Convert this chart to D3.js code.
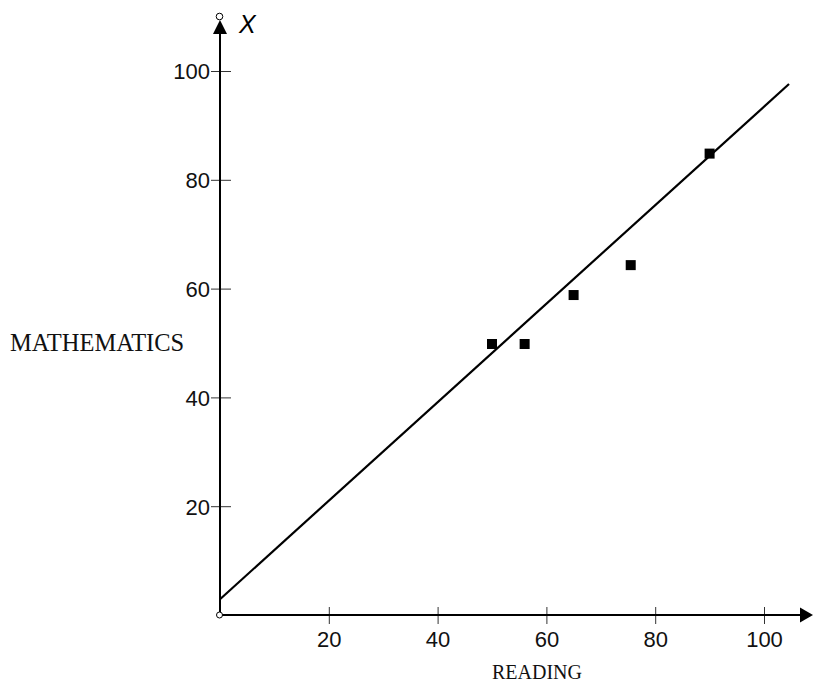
<!DOCTYPE html>
<html>
<head>
<meta charset="utf-8">
<script src="https://cdn.jsdelivr.net/npm/d3@7"></script>
<style>
  body { margin: 0; background: #fff; }
  svg { display: block; }
  .tick text { font-family: "Liberation Sans", Arial, Helvetica, sans-serif; font-size: 22px; fill: #111; }
  .tick line { stroke: #333; stroke-width: 1; }
  .title { font-family: "Liberation Serif", "Times New Roman", serif; fill: #111; }
</style>
</head>
<body>
<script>
'use strict';

// reading vs mathematics scores
var readingScores = [50, 56, 65, 75.5, 90];
var mathScores = [50, 50, 59, 64.5, 85];

// fitted line
var fitX = [0, 104.6];
var fitY = [2.9, 97.6];

var xTicks = [20, 40, 60, 80, 100];
var yTicks = [20, 40, 60, 80, 100];

var width = 813, height = 684;

var svg = d3.select('body').append('svg')
	.attr('width', width)
	.attr('height', height);

var x = d3.scaleLinear().domain([0, 100]).range([220, 764]);
var y = d3.scaleLinear().domain([0, 100]).range([615, 71]);

var ox = x(0), oy = y(0);

// x axis (ticks cross the line)
var xAxis = svg.append('g')
	.attr('transform', 'translate(0,' + oy + ')')
	.call(d3.axisBottom(x).tickValues(xTicks).tickSize(0).tickPadding(0));
xAxis.select('.domain').remove();
xAxis.selectAll('.tick line').attr('y1', -8).attr('y2', 9);
xAxis.selectAll('.tick text').attr('dy', null).attr('y', 32);

// y axis
var yAxis = svg.append('g')
	.attr('transform', 'translate(' + ox + ',0)')
	.call(d3.axisLeft(y).tickValues(yTicks).tickSize(0).tickPadding(0));
yAxis.select('.domain').remove();
yAxis.selectAll('.tick line').attr('x1', -9).attr('x2', 11);
yAxis.selectAll('.tick text').attr('x', -10).attr('dy', '0.36em');

// axis lines with arrow heads
svg.append('line')
	.attr('x1', ox).attr('y1', oy).attr('x2', 801).attr('y2', oy)
	.attr('stroke', '#000').attr('stroke-width', 2);
svg.append('path')
	.attr('d', 'M800,' + (oy - 7.5) + 'L813,' + oy + 'L800,' + (oy + 7.5) + 'Z')
	.attr('fill', '#000');

svg.append('line')
	.attr('x1', ox).attr('y1', oy).attr('x2', ox).attr('y2', 33)
	.attr('stroke', '#000').attr('stroke-width', 2);
svg.append('path')
	.attr('d', 'M' + (ox - 7) + ',34L' + ox + ',20L' + (ox + 7) + ',34Z')
	.attr('fill', '#000');

// small open circles at origin and top
svg.append('circle').attr('cx', ox - 0.5).attr('cy', oy).attr('r', 3)
	.attr('fill', '#fff').attr('stroke', '#000').attr('stroke-width', 1);
svg.append('circle').attr('cx', ox - 0.5).attr('cy', 16.5).attr('r', 3.3)
	.attr('fill', '#fff').attr('stroke', '#000').attr('stroke-width', 1);

svg.append('text')
	.attr('x', 239).attr('y', 33)
	.attr('font-family', '"Liberation Sans", Arial, sans-serif')
	.attr('font-style', 'italic')
	.attr('font-size', 25)
	.text('X');

// fitted line
svg.append('line')
	.attr('x1', x(fitX[0])).attr('y1', y(fitY[0]))
	.attr('x2', x(fitX[1])).attr('y2', y(fitY[1]))
	.attr('stroke', '#000').attr('stroke-width', 2.2);

// points
var pts = readingScores.map(function (r, i) { return [r, mathScores[i]]; });
svg.selectAll('rect.pt')
	.data(pts)
	.enter().append('rect')
	.attr('class', 'pt')
	.attr('x', function (d) { return x(d[0]) - 5; })
	.attr('y', function (d) { return y(d[1]) - 4; })
	.attr('width', 10).attr('height', 10)
	.attr('fill', '#000');

// axis titles
svg.append('text').attr('class', 'title')
	.attr('x', 10).attr('y', 351)
	.attr('font-size', 24.5)
	.text('MATHEMATICS');

svg.append('text').attr('class', 'title')
	.attr('x', 537).attr('y', 679)
	.attr('text-anchor', 'middle')
	.attr('font-size', 20)
	.text('READING');
</script>
</body>
</html>
